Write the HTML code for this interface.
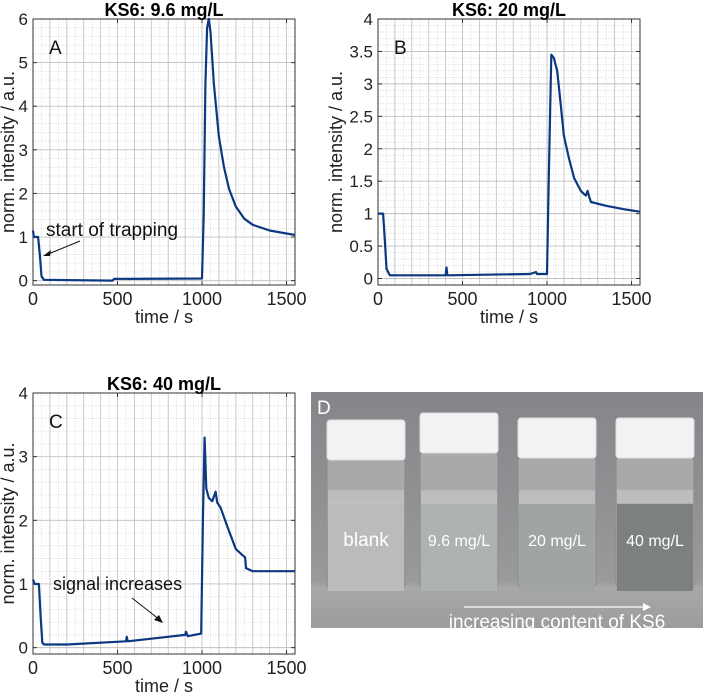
<!DOCTYPE html>
<html><head><meta charset="utf-8"><style>
body{margin:0;background:#fff;}
svg text{font-family:"Liberation Sans","DejaVu Sans",sans-serif;}
</style></head><body>
<svg id="fig" width="703" height="695" xmlns="http://www.w3.org/2000/svg">
<defs>
<linearGradient id="bg" x1="0" y1="0" x2="0" y2="1"><stop offset="0" stop-color="#85858a"/><stop offset="0.8" stop-color="#9a9a9c"/><stop offset="0.83" stop-color="#a8a8a8"/><stop offset="1" stop-color="#9c9c9c"/></linearGradient>
</defs>
<g id="photo">
<rect x="311" y="392" width="392" height="236" fill="url(#bg)"/>
<text x="317" y="414" font-size="19" fill="#fff">D</text>
</g>
</svg>
<script>
const xTicks=[0,500,1000,1500];
const aTimes=[0,5,30,40,50,65,470,480,1000,1010,1020,1030,1040,1050,1070,1100,1130,1160,1200,1250,1300,1400,1500,1550];
const aValues=[1.15,1.0,1.0,0.6,0.1,0.02,0.0,0.04,0.05,1.5,4.5,5.8,6.0,5.7,4.5,3.3,2.6,2.1,1.7,1.42,1.28,1.15,1.08,1.05];
const aYTicks=[0,1,2,3,4,5,6];
const bTimes=[0,30,40,50,70,400,405,410,900,935,940,1000,1010,1025,1040,1060,1080,1100,1130,1160,1200,1220,1230,1240,1250,1260,1350,1450,1550];
const bValues=[1.0,1.0,0.6,0.15,0.05,0.05,0.17,0.05,0.07,0.1,0.07,0.07,1.5,3.45,3.4,3.2,2.7,2.2,1.85,1.55,1.35,1.3,1.28,1.35,1.25,1.18,1.12,1.07,1.03];
const bYTicks=[0,0.5,1,1.5,2,2.5,3,3.5,4];
const cTimes=[0,10,35,45,55,65,200,550,555,560,900,905,915,995,1005,1015,1025,1040,1060,1080,1090,1110,1150,1200,1240,1255,1260,1300,1400,1550];
const cValues=[1.07,1.0,1.0,0.5,0.08,0.05,0.05,0.1,0.17,0.1,0.2,0.25,0.18,0.22,2.0,3.3,2.5,2.35,2.3,2.45,2.28,2.2,1.9,1.55,1.45,1.42,1.25,1.2,1.2,1.2];
const cYTicks=[0,1,2,3,4];
const vialLabels=["blank","9.6 mg/L","20 mg/L","40 mg/L"];

const NS="http://www.w3.org/2000/svg";
const svg=document.getElementById('fig');
function mk(tag,attrs,parent){const e=document.createElementNS(NS,tag);for(const k in attrs)e.setAttribute(k,attrs[k]);(parent||svg).appendChild(e);return e;}

function panel(id,L,T,R,B,ymax,yStep,minorStep,times,vals,yTicks,title,letter,yOff){
  const g=mk('g',{});
  
  
  const xmin=0,xmax=1550,ymin=-0.1;
  const sx=v=>L+(v-xmin)/(xmax-xmin)*(R-L);
  const sy=v=>B-(v-ymin)/(ymax-ymin)*(B-T);
  mk('rect',{x:L,y:T,width:R-L,height:B-T,fill:'#fff'},g);
  for(let v=50;v<xmax;v+=50){const x=sx(v);mk('line',{x1:x,x2:x,y1:T,y2:B,stroke:v%100==0?'#c4c4c4':'#d0d0d0','stroke-width':v%100==0?0.9:0.7,'stroke-dasharray':v%100==0?'':'1,1.5'},g);}
  for(let v=0;v<=ymax+1e-9;v+=minorStep){const y=sy(v);const maj=Math.abs(v/yStep-Math.round(v/yStep))<1e-6;mk('line',{x1:L,x2:R,y1:y,y2:y,stroke:maj?'#c0c0c0':'#d0d0d0','stroke-width':maj?0.9:0.7,'stroke-dasharray':maj?'':'1,1.5'},g);}
  mk('rect',{x:L,y:T,width:R-L,height:B-T,fill:'none',stroke:'#333','stroke-width':1},g);
  xTicks.forEach(v=>{const x=sx(v);mk('line',{x1:x,x2:x,y1:B,y2:B-4,stroke:'#333'},g);mk('line',{x1:x,x2:x,y1:T,y2:T+4,stroke:'#333'},g);
    const t=mk('text',{x:x,y:B+20,'font-size':18,'text-anchor':'middle',fill:'#222'},g);t.textContent=v;
    
    });
  yTicks.forEach(v=>{const y=sy(v);mk('line',{x1:L,x2:L+4,y1:y,y2:y,stroke:'#333'},g);mk('line',{x1:R,x2:R-4,y1:y,y2:y,stroke:'#333'},g);
    const t=mk('text',{x:L-5,y:y+6,'font-size':17,'text-anchor':'end',fill:'#222'},g);t.textContent=v;
    
    });
  const d=times.map((t,i)=>(i?'L':'M')+sx(t).toFixed(1)+','+sy(vals[i]).toFixed(1)).join(' ');
  const p=mk('path',{d:d,fill:'none',stroke:'#0b3880','stroke-width':2.2,'stroke-linejoin':'round'},g);
  
  
  const tt=mk('text',{x:(L+R)/2,y:T-3,'font-size':18,'font-weight':'bold','text-anchor':'middle',fill:'#000'},g);tt.textContent=title;
  
  
  const xl=mk('text',{x:(L+R)/2,y:B+38,'font-size':18,'text-anchor':'middle',fill:'#222'},g);xl.textContent='time / s';
  
  
  const cy=(T+B)/2;
  const yl=mk('text',{x:0,y:0,'font-size':18,'text-anchor':'middle',fill:'#222',transform:`translate(${L-yOff},${cy}) rotate(-90)`},g);yl.textContent='norm. intensity / a.u.';
  
  
  const pl=mk('text',{x:L+16,y:T+35,'font-size':19,fill:'#111'},g);pl.textContent=letter;
  
  
  return {sx,sy,g};
}
const A=panel('a',33,19,295,285,6,1,0.2,aTimes,aValues,aYTicks,'KS6: 9.6 mg/L','A',19);
const Bp=panel('b',378,19,640,285,4,0.5,0.1,bTimes,bValues,bYTicks,'KS6: 20 mg/L','B',36);
const C=panel('c',33,393,295,654,4,1,0.2,cTimes,cValues,cYTicks,'KS6: 40 mg/L','C',19);

// annotations
let t=mk('text',{x:46,y:236,'font-size':19,fill:'#111'});t.textContent='start of trapping';


mk('line',{x1:80,y1:241,x2:46,y2:255,stroke:'#111','stroke-width':1});
mk('path',{d:'M43,256 L51,250 L50,256 Z',fill:'#111'});
t=mk('text',{x:53,y:590,'font-size':18,fill:'#111'});t.textContent='signal increases';


mk('line',{x1:132,y1:598,x2:160,y2:620,stroke:'#111','stroke-width':1});
mk('path',{d:'M163,623 L154,620 L159,615 Z',fill:'#111'});

// photo vials
const vialX=[327,420,518,616];
const capY=[420,413,418,418];
const liquidCol=['#b9bcbb','#aeb2b0','#a0a4a2','#7c807e'];
vialX.forEach((x,i)=>{
  const g=mk('g',{});
  
  
  mk('rect',{x:x,y:capY[i]+38,width:78,height:137-(capY[i]-413),rx:5,fill:'#a8aaaa',stroke:'#8a8c8c'},g);
  mk('rect',{x:x+1,y:503,width:76,height:88,fill:liquidCol[i]},g);
  mk('rect',{x:x+1,y:490,width:76,height:14,fill:'#c4c6c6',opacity:0.7},g);
  mk('rect',{x:x,y:capY[i],width:78,height:40,rx:3,fill:'#f2f2f2',stroke:'#dcdcdc'},g);
  const l=mk('text',{x:x+39,y:546,'font-size':i==0?19:16,'text-anchor':'middle',fill:'#fff'},g);l.textContent=vialLabels[i];
  
  
});
mk('line',{x1:464,y1:607,x2:648,y2:607,stroke:'#fff','stroke-width':1.2});
mk('path',{d:'M651,607 L643,603 L643,611 Z',fill:'#fff'});
t=mk('text',{x:557,y:628,'font-size':19,'text-anchor':'middle',fill:'#fff'});t.textContent='increasing content of KS6';


</script>
</body></html>
